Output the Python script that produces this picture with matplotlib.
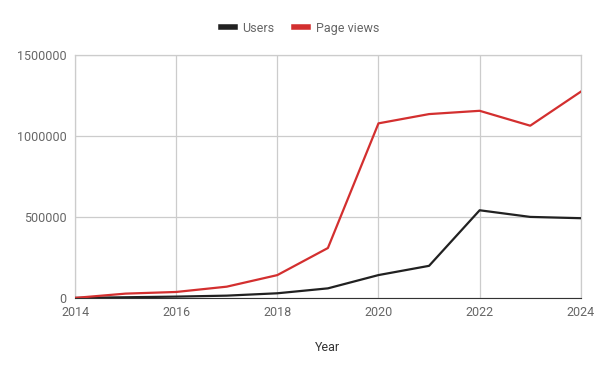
import matplotlib.pyplot as plt
from matplotlib.ticker import MultipleLocator

plt.rcParams['font.family'] = ['Roboto', 'DejaVu Sans']

years = [2014, 2015, 2016, 2017, 2018, 2019, 2020, 2021, 2022, 2023, 2024]
users = [0, 4000, 8000, 14000, 28600, 59000, 141000, 198000, 541000, 500000, 492000]
page_views = [0, 26500, 36700, 69400, 140800, 308000, 1077500, 1134700, 1155000, 1063000, 1273000]

fig = plt.figure(figsize=(6, 3.71), dpi=100)
ax = fig.add_axes([0.125, 0.197, 0.843, 0.655])

ax.plot(years, users, color="#212121", lw=1.6, label="Users", zorder=3)
ax.plot(years, page_views, color="#d32f2f", lw=1.6, label="Page views", zorder=3)

ax.set_xlim(2014, 2024)
ax.set_ylim(0, 1500000)
ax.xaxis.set_major_locator(MultipleLocator(2))
ax.yaxis.set_major_locator(MultipleLocator(500000))
ax.ticklabel_format(style="plain", useOffset=False)
ax.grid(True, color="#cccccc", lw=0.9)
ax.set_axisbelow(True)
for s in ["top", "right", "left"]:
    ax.spines[s].set_color("#cccccc")
    ax.spines[s].set_linewidth(0.9)
ax.spines["bottom"].set_color("#333333")
ax.tick_params(length=0, labelsize=9, colors="#666666", pad=6)
ax.set_xlabel("Year", fontsize=9, color="#333333", labelpad=16)

fig.legend(loc="upper center", bbox_to_anchor=(0.5, 0.972), ncol=2, frameon=False,
           fontsize=9, labelcolor="#666666", handlelength=1.1, handleheight=0.6,
           columnspacing=1.6, handletextpad=0.6)
for h in fig.legends[0].get_lines():
    h.set_linewidth(4)

fig.savefig("out.png", dpi=100)
